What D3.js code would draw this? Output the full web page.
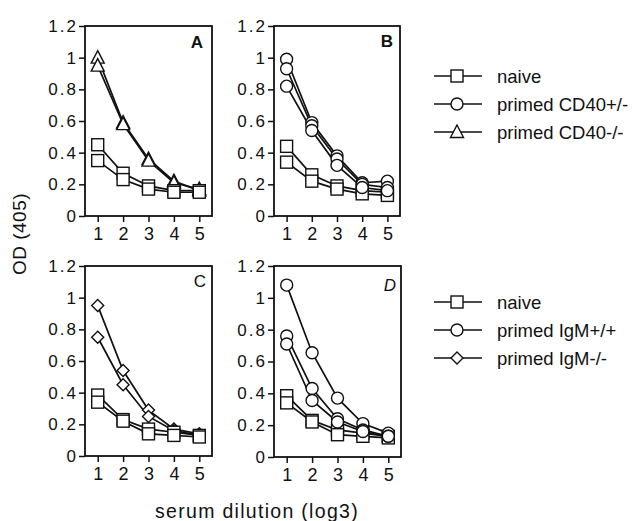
<!DOCTYPE html>
<html><head><meta charset="utf-8">
<script src="https://cdn.jsdelivr.net/npm/d3@7"></script>
<style>
body{margin:0;background:#fff;}
svg text{font-family:"Liberation Sans",Arial,Helvetica,sans-serif;fill:#111;}
</style></head>
<body><svg id="c" width="640" height="521"></svg>
<script>
const dilutions = [1, 2, 3, 4, 5];
const yTicks = [0, 0.2, 0.4, 0.6, 0.8, 1, 1.2];
const yTickLabels = ["0", "0.2", "0.4", "0.6", "0.8", "1", "1.2"];

// Panel A: naive (squares) and primed CD40-/- (triangles)
const naiveA1 = [0.45, 0.27, 0.19, 0.16, 0.16];
const naiveA2 = [0.35, 0.23, 0.17, 0.15, 0.15];
const cd40koA1 = [1.00, 0.59, 0.36, 0.22, 0.16];
const cd40koA2 = [0.95, 0.58, 0.35, 0.21, 0.17];
// Panel B: naive (squares) and primed CD40+/- (circles)
const naiveB1 = [0.44, 0.26, 0.19, 0.16, 0.15];
const naiveB2 = [0.34, 0.22, 0.17, 0.14, 0.13];
const cd40hetB1 = [0.99, 0.59, 0.38, 0.21, 0.22];
const cd40hetB2 = [0.93, 0.57, 0.36, 0.20, 0.18];
const cd40hetB3 = [0.82, 0.54, 0.32, 0.18, 0.16];
// Panel C: naive (squares) and primed IgM-/- (diamonds)
const naiveC1 = [0.385, 0.23, 0.17, 0.15, 0.13];
const naiveC2 = [0.34, 0.22, 0.14, 0.13, 0.12];
const igmkoC1 = [0.95, 0.54, 0.29, 0.17, 0.14];
const igmkoC2 = [0.75, 0.45, 0.25, 0.16, 0.13];
// Panel D: naive (squares) and primed IgM+/+ (circles)
const naiveD1 = [0.385, 0.23, 0.17, 0.15, 0.13];
const naiveD2 = [0.34, 0.22, 0.14, 0.13, 0.12];
const igmwtD1 = [1.08, 0.655, 0.37, 0.21, 0.15];
const igmwtD2 = [0.76, 0.43, 0.24, 0.17, 0.13];
const igmwtD3 = [0.71, 0.355, 0.22, 0.16, 0.13];

const panelLabels = ["A", "B", "C", "D"];
const legendTop = ["naive", "primed CD40+/-", "primed CD40-/-"];
const legendBottom = ["naive", "primed IgM+/+", "primed IgM-/-"];

const svg = d3.select("#c");

const panels = [
  {left:85, right:212, top:26, bottom:216, lx:203, ly:48, style:"normal", weight:"bold",
   series:[{d:cd40koA1,m:"tri"},{d:cd40koA2,m:"tri"},{d:naiveA1,m:"sq"},{d:naiveA2,m:"sq"}]},
  {left:274, right:400, top:26, bottom:216, lx:393, ly:47, style:"normal", weight:"bold",
   series:[{d:naiveB1,m:"sq"},{d:naiveB2,m:"sq"},{d:cd40hetB1,m:"circ"},{d:cd40hetB2,m:"circ"},{d:cd40hetB3,m:"circ"}]},
  {left:85, right:212, top:266, bottom:456, lx:206, ly:287, style:"normal", weight:"normal",
   series:[{d:igmkoC1,m:"dia"},{d:igmkoC2,m:"dia"},{d:naiveC1,m:"sq"},{d:naiveC2,m:"sq"}]},
  {left:274, right:401, top:266, bottom:457, lx:396, ly:291, style:"italic", weight:"normal",
   series:[{d:naiveD1,m:"sq"},{d:naiveD2,m:"sq"},{d:igmwtD1,m:"circ"},{d:igmwtD2,m:"circ"},{d:igmwtD3,m:"circ"}]}
];

function drawMarker(g, type, x, y){
  const s = 1.4;
  if(type==="sq"){
    g.append("rect").attr("x",x-6).attr("y",y-6).attr("width",12).attr("height",12)
      .attr("fill","#fff").attr("stroke","#111").attr("stroke-width",s);
  } else if(type==="circ"){
    g.append("circle").attr("cx",x).attr("cy",y).attr("r",6)
      .attr("fill","#fff").attr("stroke","#111").attr("stroke-width",s);
  } else if(type==="tri"){
    g.append("path").attr("d",`M${x},${y-7}L${x+6.5},${y+5.5}L${x-6.5},${y+5.5}Z`)
      .attr("fill","#fff").attr("stroke","#111").attr("stroke-width",s);
  } else if(type==="dia"){
    g.append("path").attr("d",`M${x},${y-6}L${x+6},${y}L${x},${y+6}L${x-6},${y}Z`)
      .attr("fill","#fff").attr("stroke","#111").attr("stroke-width",s);
  }
}

panels.forEach((p,pi)=>{
  const x = d3.scaleLinear().domain([0.5,5.5]).range([p.left,p.right]);
  const y = d3.scaleLinear().domain([0,1.2]).range([p.bottom,p.top]);
  const g = svg.append("g");

  g.append("rect").attr("x",p.left).attr("y",p.top).attr("width",p.right-p.left).attr("height",p.bottom-p.top)
    .attr("fill","none").attr("stroke","#111").attr("stroke-width",1.8);

  const ya = d3.axisLeft(y).tickValues(yTicks).tickSize(6).tickPadding(1)
    .tickFormat((d,i)=>yTickLabels[i]);
  const yg = g.append("g").attr("transform",`translate(${p.left},0)`).call(ya);
  yg.select(".domain").remove();
  yg.selectAll("line").attr("stroke","#111").attr("stroke-width",1.5);
  yg.selectAll("text").style("font-size","17px").style("letter-spacing","2px").attr("fill","#111");

  const xa = d3.axisBottom(x).tickValues(dilutions).tickSize(6).tickPadding(5).tickFormat(d3.format("d"));
  const xg = g.append("g").attr("transform",`translate(0,${p.bottom})`).call(xa);
  xg.select(".domain").remove();
  xg.selectAll("line").attr("stroke","#111").attr("stroke-width",1.5);
  xg.selectAll("text").style("font-size","18px").attr("fill","#111");

  g.append("text").attr("x",p.lx).attr("y",p.ly).attr("text-anchor","end")
    .style("font-size","17px").style("font-style",p.style).style("font-weight",p.weight)
    .text(panelLabels[pi]);

  const line = d3.line().x((d,i)=>x(dilutions[i])).y(d=>y(d));
  p.series.forEach(s=>{
    g.append("path").attr("d",line(s.d)).attr("fill","none").attr("stroke","#111").attr("stroke-width",1.7);
  });
  p.series.forEach(s=>{
    s.d.forEach((v,i)=>drawMarker(g,s.m,x(dilutions[i]),y(v)));
  });
});

function legend(items, markers, ys){
  items.forEach((t,i)=>{
    const g = svg.append("g");
    g.append("line").attr("x1",434).attr("x2",482).attr("y1",ys[i]).attr("y2",ys[i])
      .attr("stroke","#111").attr("stroke-width",1.5);
    drawMarker(g, markers[i], 457, ys[i]);
    g.append("text").attr("x",497).attr("y",ys[i]+6.5).style("font-size","18.5px").text(t);
  });
}
legend(legendTop, ["sq","circ","tri"], [76,104,132]);
legend(legendBottom, ["sq","circ","dia"], [302,330,358]);

svg.append("text").attr("transform","translate(26,234) rotate(-90)").attr("text-anchor","middle")
  .style("font-size","19px").style("letter-spacing","0.5px").text("OD (405)");
svg.append("text").attr("x",155).attr("y",518).attr("text-anchor","start")
  .style("font-size","19.5px").style("letter-spacing","1.3px").text("serum dilution (log3)");
</script></body></html>
